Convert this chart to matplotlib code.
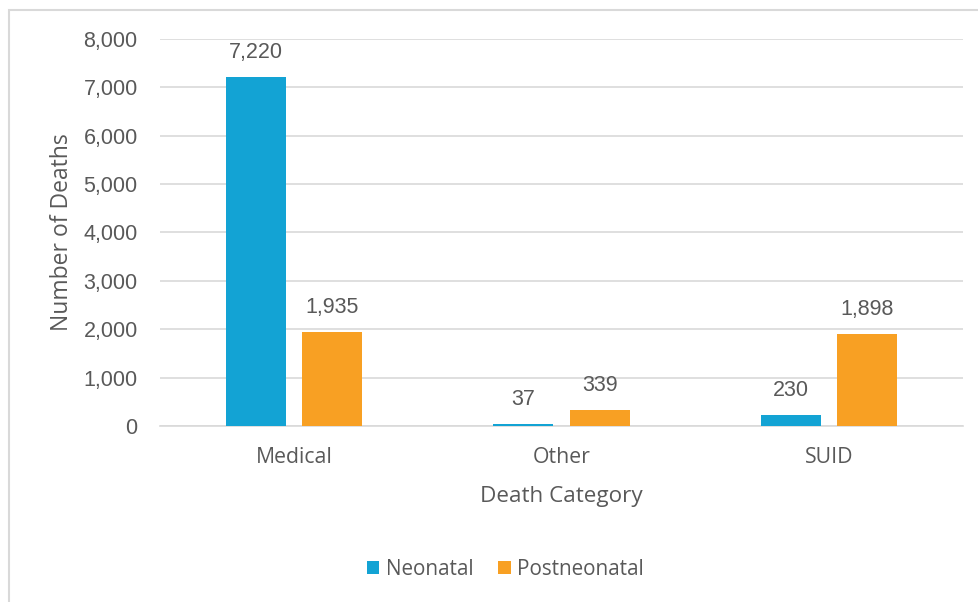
import numpy as np
import matplotlib.pyplot as plt
from matplotlib.patches import Rectangle

categories = ['Medical', 'Other', 'SUID']
neonatal = [7220, 37, 230]
postneonatal = [1935, 339, 1898]
yticks = [0, 1000, 2000, 3000, 4000, 5000, 6000, 7000, 8000]

blue = '#13A3D4'
orange = '#F8A023'
txt = '#595959'
numfont = ['Liberation Sans', 'DejaVu Sans']

plt.rcParams['font.family'] = ['Open Sans', 'DejaVu Sans']

fig = plt.figure(figsize=(9.79, 6.02), dpi=100)
ax = fig.add_axes([0.1634, 0.2924, 0.8203, 0.6428])

x = np.arange(len(categories))
w = 0.224
off = 0.143
b1 = ax.bar(x - off, neonatal, w, color=blue, label='Neonatal', zorder=3)
b2 = ax.bar(x + off, postneonatal, w, color=orange, label='Postneonatal', zorder=3)

for bars in (b1, b2):
    for r in bars:
        v = r.get_height()
        ax.annotate(f'{v:,.0f}', (r.get_x() + r.get_width() / 2, v),
                    xytext=(0, 10), textcoords='offset points',
                    ha='center', va='bottom', fontsize=15.5, color=txt,
                    family=numfont)

ax.set_xlim(-0.5, 2.5)
ax.set_ylim(0, 8000)
ax.set_yticks(yticks)
ax.set_yticklabels([f'{t:,}' for t in yticks], family=numfont, fontsize=15.5)
ax.set_xticks(x)
ax.set_xticklabels(categories, fontsize=15.3)
ax.grid(axis='y', color='#D9D9D9', linewidth=1.2, zorder=0)
for s in ['top', 'right', 'left']:
    ax.spines[s].set_visible(False)
ax.spines['bottom'].set_color('#D9D9D9')
ax.spines['bottom'].set_linewidth(1.2)
ax.tick_params(length=0, labelcolor=txt)
ax.tick_params(axis='y', pad=16)
ax.tick_params(axis='x', pad=15)

ax.set_ylabel('Number of Deaths', fontsize=16.5, color=txt, labelpad=7)
ax.set_xlabel('Death Category', fontsize=16.2, color=txt, labelpad=13)

ax.legend(loc='upper center', bbox_to_anchor=(0.43, -0.296), ncol=2,
          frameon=False, fontsize=14.9, labelcolor=txt, handlelength=0.6,
          handleheight=0.6, handletextpad=0.3, columnspacing=1.2)

# outer chart frame
fig.patches.append(Rectangle((9 / 979, -0.1), 1.2, 1 - 10 / 602 + 0.1,
                             transform=fig.transFigure, fill=False,
                             edgecolor='#D9D9D9', linewidth=1.5))

fig.savefig('out.png', dpi=100)
